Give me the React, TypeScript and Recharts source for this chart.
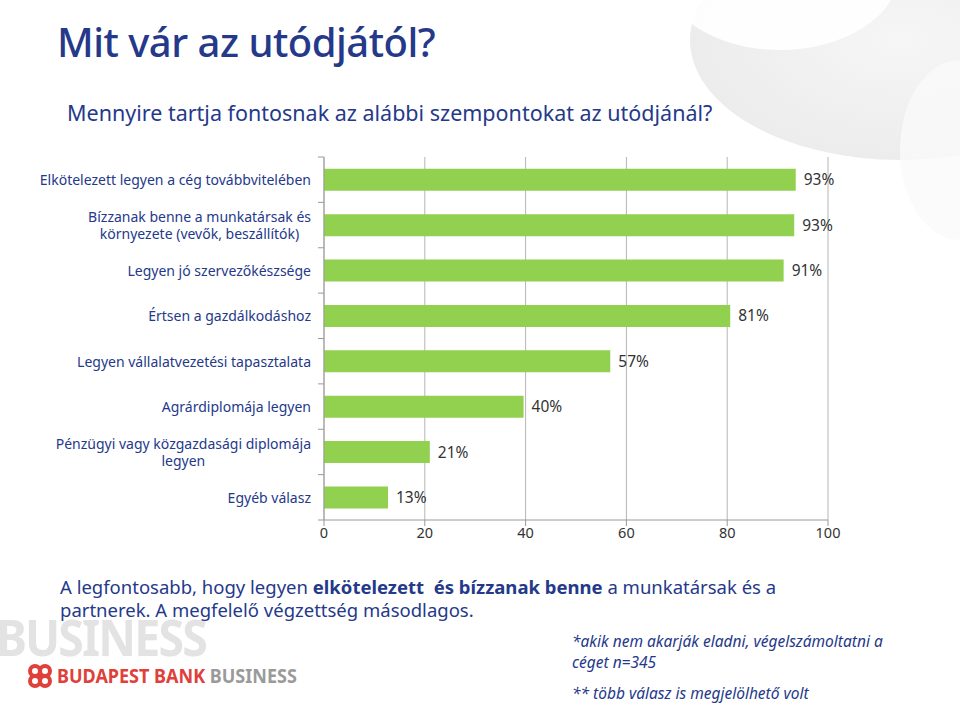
import React from 'react';
import { BarChart, Bar, XAxis, YAxis, CartesianGrid, LabelList } from 'recharts';

// szempontok (felülről lefelé)
const categories = [
  ['Elkötelezett legyen a cég továbbvitelében'],
  ['Bízzanak benne a munkatársak és', 'környezete (vevők, beszállítók)'],
  ['Legyen jó szervezőkészsége'],
  ['Értsen a gazdálkodáshoz'],
  ['Legyen vállalatvezetési tapasztalata'],
  ['Agrárdiplomája legyen'],
  ['Pénzügyi vagy közgazdasági diplomája', 'legyen'],
  ['Egyéb válasz'],
];
const values = [93.6, 93.3, 91.2, 80.6, 56.8, 39.6, 21.0, 12.7];
const valueLabels = ['93%', '93%', '91%', '81%', '57%', '40%', '21%', '13%'];
const xTicks = [0, 20, 40, 60, 80, 100];

const BLUE = '#25398a';
const GREEN = '#92d050';
const FONT = '"Noto Sans", sans-serif';

const CHART_W = 960;
const CHART_H = 560;
const MARGIN = { top: 157, right: 132, bottom: 0, left: 0 };
const X_AXIS_H = 40;
const BAND = (CHART_H - MARGIN.top - MARGIN.bottom - X_AXIS_H) / categories.length;

const data = categories.map((lines, i) => ({
  name: lines.join(' '),
  lines,
  value: values[i],
  label: valueLabels[i],
}));

let ctx: CanvasRenderingContext2D | null = null;
const measure = (txt: string) => {
  if (!ctx) ctx = document.createElement('canvas').getContext('2d');
  if (!ctx) return txt.length * 7;
  ctx.font = `14px ${FONT}`;
  return ctx.measureText(txt).width;
};

const CategoryTick = (props: any) => {
  const { x, y, index } = props;
  const lines: string[] = categories[index] || [];
  const axisX = x + 8;
  const right = x - 5;
  const w = measure(lines[0] || '');
  const cx = right - w / 2;
  const lineH = 16.5;
  const startY = y - ((lines.length - 1) * lineH) / 2;
  return (
    <g>
      <line x1={axisX - 6} x2={axisX} y1={y - BAND / 2} y2={y - BAND / 2} stroke="#9a9a9a" />
      {index === categories.length - 1 && (
        <line x1={axisX - 6} x2={axisX} y1={y + BAND / 2} y2={y + BAND / 2} stroke="#9a9a9a" />
      )}
      {lines.map((l, i) => (
        <text
          key={i}
          x={lines.length > 1 ? cx : right}
          y={startY + i * lineH}
          textAnchor={lines.length > 1 ? 'middle' : 'end'}
          dominantBaseline="central"
          fill={BLUE}
          fontSize={14}
          fontFamily={FONT}
        >
          {l}
        </text>
      ))}
    </g>
  );
};

const Logo = () => (
  <svg width={26} height={26} viewBox="0 0 26 26" style={{ position: 'absolute', left: 27, top: 663 }}>
    <g fill="none" stroke="#e0403a" strokeWidth={4}>
      <circle cx={8} cy={8} r={5} />
      <circle cx={18} cy={8} r={5} />
      <circle cx={8} cy={18} r={5} />
      <circle cx={18} cy={18} r={5} />
    </g>
  </svg>
);

export default function App() {
  return (
    <div style={{ position: 'absolute', left: 0, top: 0, width: 960, height: 707, background: '#fff', overflow: 'hidden', fontFamily: FONT }}>
      {/* háttér ív jobb felül */}
      <svg width={960} height={707} style={{ position: 'absolute', left: 0, top: 0 }}>
        <defs>
          <radialGradient id="sw" cx="50%" cy="50%" r="50%">
            <stop offset="0%" stopColor="#f2f2f2" />
            <stop offset="100%" stopColor="#e4e4e4" />
          </radialGradient>
        </defs>
        <ellipse cx={900} cy={40} rx={210} ry={120} fill="url(#sw)" opacity={0.7} />
        <ellipse cx={780} cy={-30} rx={120} ry={80} fill="#fff" opacity={0.9} />
        <ellipse cx={960} cy={150} rx={60} ry={90} fill="#fafafa" opacity={0.8} />
      </svg>

      <div style={{ position: 'absolute', left: 57, top: 17, fontSize: 40, lineHeight: '50px', color: BLUE, fontWeight: 500, letterSpacing: -0.5 }}>
        Mit vár az utódjától?
      </div>
      <div style={{ position: 'absolute', left: 67, top: 99, fontSize: 21.5, lineHeight: '28px', color: BLUE, whiteSpace: 'nowrap' }}>
        Mennyire tartja fontosnak az alábbi szempontokat az utódjánál?
      </div>

      <div style={{ position: 'absolute', left: 0, top: 0 }}>
        <BarChart width={CHART_W} height={CHART_H} data={data} layout="vertical" margin={MARGIN} barCategoryGap="26%">
          <CartesianGrid horizontal={false} vertical stroke="#b5b5b5" />
          <XAxis
            type="number"
            domain={[0, 100]}
            ticks={xTicks}
            height={X_AXIS_H}
            stroke="#9a9a9a"
            tickSize={6}
            tick={{ fill: '#333', fontSize: 14.5, fontFamily: FONT }}
            interval={0}
          />
          <YAxis
            type="category"
            dataKey="name"
            width={324}
            stroke="#9a9a9a"
            tickLine={false}
            tick={<CategoryTick />}
            interval={0}
          />
          <Bar dataKey="value" fill={GREEN} isAnimationActive={false}>
            <LabelList dataKey="label" position="right" offset={8} fill="#333" fontSize={15.5} fontFamily={FONT} />
          </Bar>
        </BarChart>
      </div>

      <div style={{ position: 'absolute', left: -4, top: 614, fontSize: 50, lineHeight: '46px', fontWeight: 700, color: '#e3e3e3', letterSpacing: -2, transform: 'scaleX(0.93)', transformOrigin: 'left', whiteSpace: 'nowrap' }}>
        BUSINESS
      </div>
      <Logo />
      <div style={{ position: 'absolute', left: 57, top: 664, fontSize: 20, lineHeight: '24px', fontWeight: 700, transform: 'scaleX(0.9)', transformOrigin: 'left', whiteSpace: 'nowrap' }}>
        <span style={{ color: '#e0403a' }}>BUDAPEST BANK </span>
        <span style={{ color: '#9a9a9a' }}>BUSINESS</span>
      </div>

      <div style={{ position: 'absolute', left: 60, top: 575, fontSize: 18.5, lineHeight: '23px', color: BLUE, whiteSpace: 'nowrap' }}>
        A legfontosabb, hogy legyen <b>elkötelezett&nbsp; és bízzanak benne</b> a munkatársak és a
        <br />
        partnerek. A megfelelő végzettség másodlagos.
      </div>

      <div style={{ position: 'absolute', left: 572, top: 631, fontSize: 15.5, lineHeight: '21px', fontStyle: 'italic', color: BLUE, whiteSpace: 'nowrap' }}>
        *akik nem akarják eladni, végelszámoltatni a
        <br />
        céget n=345
      </div>
      <div style={{ position: 'absolute', left: 572, top: 683, fontSize: 15.5, lineHeight: '21px', fontStyle: 'italic', color: BLUE, whiteSpace: 'nowrap' }}>
        ** több válasz is megjelölhető volt
      </div>
    </div>
  );
}
